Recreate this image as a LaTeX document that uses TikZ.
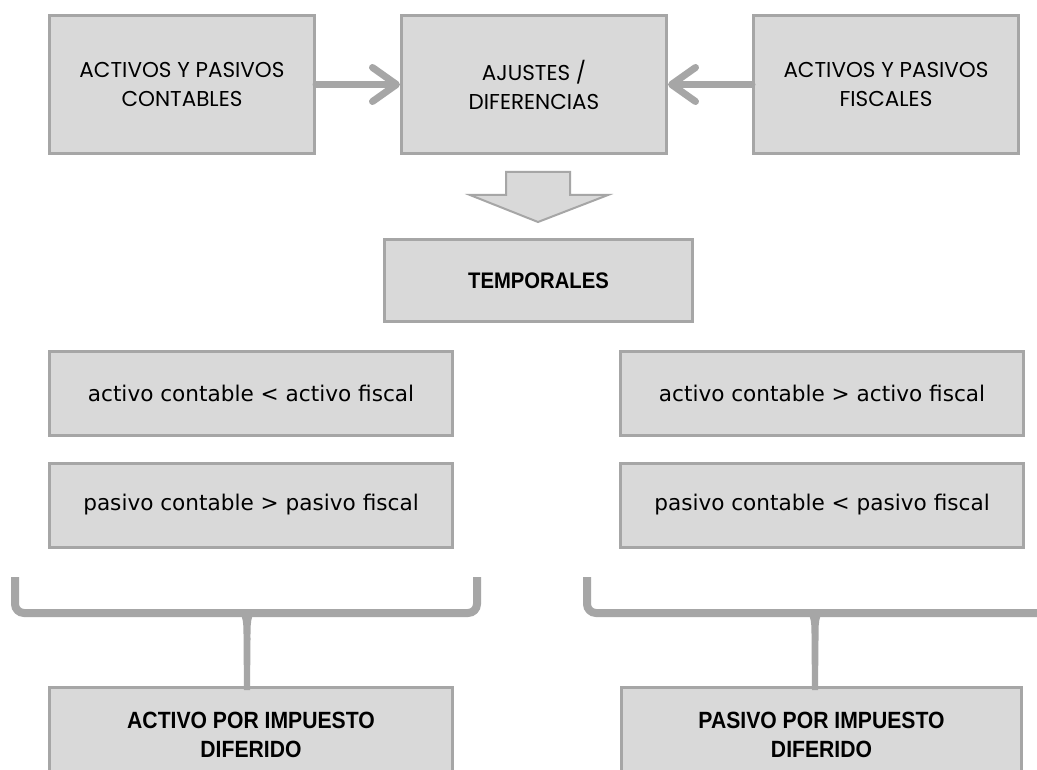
\documentclass[tikz,border=0pt]{standalone}
\usepackage{fontspec}
\setmainfont{Liberation Sans}
\newfontfamily\topfont{Poppins}
\newfontfamily\condfont{DejaVu Sans}
\newfontfamily\boldc[FakeStretch=0.9]{Liberation Sans}
\usetikzlibrary{arrows.meta}
\definecolor{boxfill}{HTML}{D9D9D9}
\definecolor{boxline}{HTML}{A6A6A6}
\begin{document}
\begin{tikzpicture}[x=1pt,y=-1pt,
  box/.style={draw=boxline,fill=boxfill,line width=3pt,inner sep=0pt,align=center},
  topbox/.style={box,minimum width=265pt,minimum height=138pt,font=\topfont\fontsize{21.5}{29}\selectfont},
  condbox/.style={box,minimum width=403pt,minimum height=84pt,font=\condfont\fontsize{21.6}{26}\selectfont},
  boldbox/.style={box,font=\boldc\bfseries\fontsize{23.5}{29}\selectfont},
  conn/.style={draw=boxline,line width=7pt,line cap=round,line join=round,-{Straight Barb[length=24pt,width=34pt,line cap=round,line join=round]}},
  brace/.style={draw=boxline,line width=8pt,rounded corners=9pt},
]
\useasboundingbox (0,0) rectangle (1037,770);
\clip (0,0) rectangle (1037,770);
\fill[white] (0,0) rectangle (1037,770);

\node[topbox] (lc) at (182,84.5) {ACTIVOS Y PASIVOS\\CONTABLES};
\node[topbox] (mid) at (534,84.5) {AJUSTES /\\DIFERENCIAS};
\node[topbox] (rf) at (886,84.5) {ACTIVOS Y PASIVOS\\FISCALES};

\draw[conn] (lc.east) -- (mid.west);
\draw[conn] (rf.west) -- (mid.east);

% block arrow
\draw[draw=boxline,fill=boxfill,line width=2pt,line join=miter]
  (506,172) -- (570,172) -- (570,195) -- (608,195) -- (538,222) -- (470,195) -- (506,195) -- cycle;

\node[boldbox,minimum width=308pt,minimum height=82pt,font=\boldc\bfseries\fontsize{22.5}{29}\selectfont] (temp) at (538.5,280.5) {TEMPORALES};

\node[condbox] (c1) at (251,393.5) {activo contable < activo fiscal};
\node[condbox] (c2) at (251,505) {pasivo contable > pasivo fiscal};
\node[condbox] (c3) at (822,393.5) {activo contable > activo fiscal};
\node[condbox] (c4) at (822,505) {pasivo contable < pasivo fiscal};

\node[boldbox,minimum width=403pt,minimum height=95pt] (act) at (251,734.5) {ACTIVO POR IMPUESTO\\DIFERIDO};
\node[boldbox,minimum width=400pt,minimum height=95pt] (pas) at (821.5,734.5) {PASIVO POR IMPUESTO\\DIFERIDO};

% braces
\coordinate (b1a) at (15,577);
\coordinate (b1b) at (477,577);
\draw[brace] (b1a) -- (15,613) -- (477,613) -- (b1b);
\fill[boxline] (236,611) .. controls (244,613) and (243.5,625) .. (243.5,640)
  -- (244,690) -- (250,690) -- (250.5,640)
  .. controls (250.5,625) and (250,613) .. (258,611) -- cycle;

\coordinate (b2a) at (587,577);
\coordinate (b2b) at (1050,613);
\draw[brace] (b2a) -- (587,613) -- (b2b);
\fill[boxline] (804,611) .. controls (812,613) and (811.5,625) .. (811.5,640)
  -- (812,690) -- (818,690) -- (818.5,640)
  .. controls (818.5,625) and (818,613) .. (826,611) -- cycle;
\end{tikzpicture}
\end{document}
